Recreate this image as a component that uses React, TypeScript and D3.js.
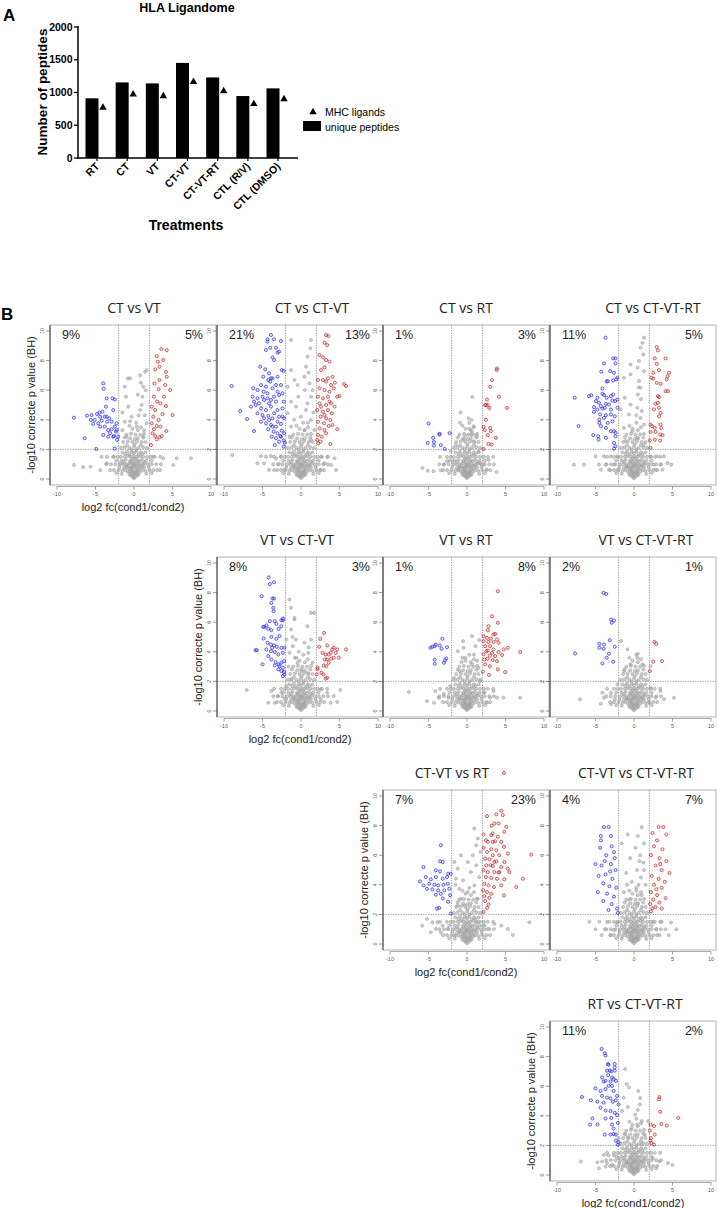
import React from "react";
import * as d3 from "d3";

// ---------- Panel A data ----------
const treatments = ["RT", "CT", "VT", "CT-VT", "CT-VT-RT", "CTL (R/V)", "CTL (DMSO)"];
const uniquePeptides = [911, 1154, 1139, 1452, 1230, 946, 1063];
const mhcLigands = [769, 972, 946, 1164, 1022, 825, 901];
const barYTicks = [0, 500, 1000, 1500, 2000];

// ---------- Panel B data ----------
const volcanoXTicks = [-10, -5, 0, 5, 10];
const volcanoYTicks = [0, 2, 4, 6, 8, 10];
const fcThreshold = 2;
const pThreshold = 2;

const comparisons = [
  "CT vs VT", "CT vs CT-VT", "CT vs RT", "CT vs CT-VT-RT",
  "VT vs CT-VT", "VT vs RT", "VT vs CT-VT-RT",
  "CT-VT vs RT", "CT-VT vs CT-VT-RT", "RT vs CT-VT-RT",
];
const pctDown = ["9%", "21%", "1%", "11%", "8%", "1%", "2%", "7%", "4%", "11%"];
const pctUp = ["5%", "13%", "3%", "5%", "3%", "8%", "1%", "23%", "7%", "2%"];

// common dense low-significance core (log2fc, -log10 p)
const grayCore = [
  0,0.05, -0.2,0.15, 0.2,0.15, -0.4,0.25, 0.4,0.25, 0,0.3, -0.1,0.4, 0.3,0.45, -0.6,0.3, 0.6,0.3,
  -0.8,0.5, -0.5,0.5, -0.2,0.55, 0.1,0.5, 0.5,0.55, 0.8,0.5, 1.1,0.6, -1.1,0.6, -1.5,0.55, 1.5,0.55,
  -2.0,0.6, 2.0,0.6, -2.6,0.6, 2.5,0.6, -3.1,0.6, 3.0,0.6, -0.3,0.65, 0.3,0.65,
  -1.3,0.75, -0.9,0.8, -0.4,0.75, 0,0.8, 0.4,0.8, 0.9,0.75, 1.3,0.8, -0.7,0.9, 0.7,0.9, 0,0.95,
  -2.4,1.0, -1.8,1.0, -1.4,1.0, -1.0,1.0, -0.6,1.05, -0.2,1.0, 0.2,1.05, 0.6,1.0, 1.0,1.0, 1.4,1.05,
  1.8,1.0, 2.3,1.0, -3.0,1.0, 2.9,1.0, -0.15,1.15, 0.35,1.15,
  -1.6,1.25, -1.1,1.3, -0.5,1.25, 0,1.3, 0.5,1.25, 1.0,1.3, 1.6,1.25,
  -2.6,1.5, -2.1,1.5, -1.7,1.5, -1.2,1.5, -0.8,1.55, -0.4,1.5, 0,1.55, 0.4,1.5, 0.8,1.55, 1.2,1.5,
  1.7,1.5, 2.2,1.5, 2.7,1.5,
  -1.5,1.8, -0.9,1.85, -0.3,1.8, 0.3,1.85, 0.9,1.8, 1.5,1.8,
  -1.7,2.1, -1.2,2.15, -0.6,2.1, 0,2.2, 0.6,2.1, 1.2,2.15, 1.7,2.1,
  -1.4,2.5, -0.8,2.55, -0.2,2.5, 0.4,2.55, 1.0,2.5, 1.5,2.5,
  -1.0,3.0, -0.4,3.05, 0.2,3.0, 0.8,3.0, 1.3,3.05,
  -0.1,0.2, 0.15,0.35, -0.35,0.45, 0.45,0.4, -0.6,0.7, 0.6,0.7, -0.2,0.85, 0.2,0.9, -1.0,0.85, 1.1,0.9,
  -0.45,1.15, 0.7,1.2, -1.3,1.15, 1.3,1.15, -0.2,1.4, 0.25,1.4, -0.6,1.65, 0.6,1.65, -1.1,1.7, 1.1,1.7,
  0,1.75, -0.3,2.0, 0.3,2.0, -0.9,2.3, 0.9,2.3, 0.1,2.35, -0.5,2.75, 0.5,2.75, 1.2,2.8, -1.2,2.8,
  0.1,2.7, 0.5,3.3, -0.2,3.4, 0.9,3.5, 0.3,3.8, -0.6,3.6, -2.3,1.25, 2.3,1.25, -1.9,0.8, 1.9,0.8,
  -3.5,1.5, 3.4,1.5, -3.6,1.0, 3.5,1.0, -2.3,0.4, 2.3,0.4, -1.6,0.35, 1.6,0.35,
];

// CT vs VT
const ctVsVtBlue = [
  -7.8,4.14, -6.4,2.75, -6.1,4.28, -5.5,4.32, -5.6,3.99, -5.3,3.72, -4.9,2.03, -4.8,4.39, -4.65,3.76, -4.4,4.2,
  -4.2,3.94, -4.1,4.55, -4.0,6.46, -3.95,6.1, -3.8,3.54, -3.65,4.89, -3.55,5.45, -3.5,3.87, -3.35,3.31, -3.2,4.1,
  -3.1,3.09, -2.9,3.36, -2.8,5.45, -2.7,4.66, -2.6,2.9, -2.5,5.38, -2.35,3.2, -2.25,3.76, -2.2,2.64, -2.5,2.05,
  -4.4,3.54, -5.1,3.99, -3.55,4.21, -2.9,3.87, -2.5,3.54, -4.0,2.97, -3.35,2.86, -3.8,4.21, -4.5,4.48, -2.7,2.86,
  -2.05,2.86, -2.25,3.31,
];
const ctVsVtRed = [
  3.55,8.78, 4.25,8.71, 2.95,8.3, 3.1,7.93, 3.8,8.04, 2.75,7.41, 3.3,7.59, 4.15,7.25, 4.25,6.91, 3.3,6.69,
  2.65,6.46, 4.05,6.35, 4.7,6.01, 3.2,6.06, 2.6,5.56, 3.9,5.56, 3.0,5.23, 2.3,4.89, 3.45,5.11, 4.15,4.93,
  2.75,4.66, 3.7,4.39, 5.0,4.32, 2.5,4.21, 3.2,3.99, 2.3,3.76, 2.95,3.58, 3.45,3.54, 4.2,3.24, 2.4,3.09,
  2.75,2.9, 3.3,2.82, 3.6,2.9, 2.95,2.68, 2.2,2.3, 2.6,3.36,
];
const ctVsVtGray = [
  -7.8,0.95, -5.65,0.83, -4.2,1.5, -3.55,1.06, -2.7,1.51, -1.8,1.06, -1.2,3.87, -1.05,5.56, -0.5,6.8, 0.8,7.0,
  1.45,7.25, 1.65,7.36, 1.2,6.24, 1.1,5.56, 0.8,4.66, -0.75,4.89, -0.3,4.21, 0.35,3.54, -0.95,2.86, 1.2,2.86,
  3.8,1.4, 5.1,0.95, 5.55,1.4, 7.4,1.4, 3.4,0.6, 2.5,1.5, -4.4,0.6, -6.6,0.8, 1.65,3.76, -1.2,6.24, -0.8,6.8,
  1.0,5.0, 0.6,4.3, 1.4,4.3, -0.5,3.9, 1.3,3.3, -1.5,3.3, 0.9,6.5, 1.5,6.0, -1.5,4.5, 0.5,5.7,
];

// CT vs CT-VT
const ctVsCtvtBlue = [
  -9.0,6.28, -7.9,4.59, -7.0,4.05, -6.1,3.24, -6.2,6.13, -5.3,7.59, -4.9,6.91, -4.65,7.41, -4.35,9.44, -3.9,9.73,
  -3.5,9.44, -4.35,9.28, -4.0,8.87, -3.25,8.87, -2.6,9.32, -3.7,8.22, -3.05,8.54, -2.85,8.6, -4.55,8.72, -3.5,8.04,
  -2.5,7.36, -2.25,7.3, -4.25,6.69, -3.9,6.8, -4.0,6.58, -3.25,6.35, -5.2,6.35, -5.65,6.01, -4.85,5.9, -4.35,5.79,
  -3.5,5.56, -2.85,5.68, -2.4,5.79, -6.3,5.56, -5.65,5.45, -4.8,5.34, -4.15,5.11, -3.25,5.23, -2.25,5.23, -6.5,4.89,
  -5.9,5.0, -5.2,4.77, -4.55,4.66, -3.9,4.89, -3.05,4.66, -2.4,4.77, -5.65,4.44, -5.0,4.32, -4.25,4.26, -3.7,4.1,
  -2.85,4.21, -2.2,4.1, -5.2,3.87, -4.55,3.76, -3.9,3.65, -3.25,3.54, -2.6,3.72, -4.25,3.36, -3.55,3.2, -3.05,3.09,
  -2.5,3.27, -2.2,3.09, -3.8,2.86, -3.25,2.75, -2.7,2.9, -2.25,2.59, -2.1,2.45, -2.85,2.52, -5.0,5.56, -4.55,6.24,
  -3.7,6.13, -4.15,7.14, -3.05,6.91, -6.1,5.23, -5.45,5.11, -3.5,4.44, -4.8,4.1, -4.15,3.99, -3.05,3.87, -2.4,4.21,
  -3.7,3.54, -2.6,2.86, -3.4,2.3, -2.25,2.18, -3.7,6.8, -3.05,5.9, -2.6,6.35, -3.9,5.34, -4.35,5.45,
];
const ctVsCtvtRed = [
  3.25,9.73, 3.55,9.66, 3.05,9.21, 3.4,9.05, 2.4,8.38, 2.85,8.22, 3.25,8.04, 3.7,7.93, 2.6,7.36, 3.05,7.55,
  2.2,6.69, 2.85,6.69, 3.5,6.8, 4.1,6.91, 4.4,6.51, 5.6,6.42, 5.85,6.28, 2.4,6.13, 3.05,6.01, 3.7,5.9,
  4.25,6.13, 2.2,5.56, 2.85,5.45, 3.5,5.56, 4.7,5.56, 5.0,5.61, 2.4,5.11, 3.25,5.0, 3.9,5.11, 4.35,4.89,
  2.1,4.66, 2.85,4.55, 3.5,4.66, 4.0,4.44, 2.55,4.21, 3.25,4.1, 3.8,3.99, 2.2,3.87, 3.0,3.76, 3.6,3.58,
  4.7,3.36, 2.4,3.42, 3.05,3.31, 2.2,2.97, 2.7,2.86, 3.25,3.09, 2.1,2.64, 2.55,2.52, 3.8,2.36, 2.25,2.41,
  3.25,6.58, 3.9,6.35, 2.6,4.89, 3.7,5.23, 3.05,4.32, 4.1,3.65,
];
const ctVsCtvtGray = [
  -8.9,1.62, -5.2,1.55, -4.55,1.51, -3.9,1.55, -3.25,1.4, -2.6,1.51, -5.65,1.06, -4.8,1.06, -4.15,0.61, -3.5,0.61,
  -2.85,1.01, -2.2,0.61, -1.3,9.39, 1.3,9.39, 1.2,8.83, 0.85,8.27, 0.65,7.59, -1.3,7.36, -0.85,6.69, -0.45,6.35,
  -1.75,6.24, 0.45,6.91, 1.1,6.46, 1.3,5.56, 0.85,5.11, -1.3,5.23, -0.65,4.89, -1.75,4.44, 0,4.21, 1.3,3.99,
  -1.3,3.54, 0.45,3.31, 1.75,3.31, -1.5,2.86, 1.3,2.64, 2.6,1.51, 3.5,1.51, 4.35,1.4, 3.05,1.06, 3.9,0.95,
  4.55,0.61, 2.6,0.61, -0.35,5.56, 0.5,6.01, 0.65,4.66, 1.0,7.2, 1.5,6.0, 1.6,4.5, 0.9,3.8, -0.9,4.0,
];

// CT vs RT
const ctVsRtBlue = [
  -5.0,3.75, -4.4,2.78, -5.1,2.44, -4.3,2.5, -4.3,2.26, -3.55,3.05, -3.6,3.0, -2.26,3.1, -3.4,2.3, -2.9,2.03,
];
const ctVsRtRed = [
  3.9,7.47, 3.85,7.36, 3.25,6.68, 3.0,6.23, 4.15,5.55, 2.6,5.37, 2.35,4.99, 2.5,5.03, 2.7,4.97, 2.9,4.8,
  5.2,4.8, 2.45,4.0, 2.15,3.52, 2.3,3.3, 3.0,3.45, 3.1,3.23, 2.7,2.96, 3.75,2.78, 2.8,2.37, 3.2,2.33, 2.15,2.03,
];
const ctVsRtGray = [
  0.7,5.55, -0.85,4.5, 0.2,4.1, 0.6,4.0, 0.85,3.55, 0.65,3.2, 0.5,3.0, -0.2,2.93, -0.4,2.66, 0.85,2.55,
  1.5,1.87, -2.1,1.87, -5.8,0.75, -5.1,0.56, -4.35,0.52, -3.4,0.59, -3.0,0.97, -1.9,1.2, 1.7,1.08, 2.1,0.97,
  3.85,0.47, 2.55,0.63, -1.1,0.63, -0.9,3.8, 0.3,3.4, -1.5,2.3, 1.3,2.9, -2.6,1.2, 2.8,1.3,
];

// CT vs CT-VT-RT
const ctVsCtvtrtBlue = [
  -3.7,9.55, -2.7,8.15, -2.4,8.15, -3.9,7.81, -2.4,7.81, -3.1,7.29, -4.25,7.25, -2.6,7.18, -3.55,6.59, -3.4,6.61,
  -2.7,6.66, -2.15,6.84, -2.3,6.73, -4.1,6.12, -7.7,5.49, -5.85,5.6, -5.55,5.67, -4.75,5.49, -4.1,5.76, -3.9,5.67,
  -3.55,5.49, -3.0,5.6, -2.7,5.71, -2.15,5.37, -4.95,5.26, -4.55,5.15, -4.3,4.92, -3.65,5.08, -3.25,5.03, -2.8,5.3,
  -2.45,5.26, -5.2,4.85, -4.75,4.7, -4.1,4.76, -3.8,4.81, -3.0,4.7, -2.15,4.81, -5.2,4.54, -4.4,4.36, -3.65,4.31,
  -3.0,4.36, -2.5,4.24, -4.5,4.02, -3.9,4.13, -3.4,3.79, -2.8,3.9, -4.5,3.79, -7.2,3.57, -4.3,3.57, -3.65,3.45,
  -3.0,3.23, -2.6,3.23, -5.3,2.96, -4.65,2.89, -3.65,2.78, -2.4,3.12, -2.4,2.89, -4.6,2.66, -2.6,2.44, -2.4,2.21,
  -2.6,2.05,
];
const ctVsCtvtrtRed = [
  2.95,8.92, 3.1,8.69, 4.1,8.15, 2.7,8.15, 2.95,7.79, 3.25,7.36, 2.5,7.18, 4.55,7.18, 4.35,6.95, 4.25,6.73,
  2.25,6.84, 2.5,6.79, 2.95,6.5, 3.45,6.43, 4.1,5.94, 4.4,5.94, 3.1,5.6, 3.25,5.53, 2.8,5.08, 3.1,5.15,
  3.25,4.81, 2.6,4.7, 3.45,4.47, 3.25,4.24, 2.15,3.68, 2.35,3.57, 2.7,3.45, 3.45,3.68, 3.55,3.45, 2.15,3.18,
  2.8,3.18, 3.4,3.0, 3.7,2.96, 2.7,2.66, 3.4,2.6, 2.05,2.6, 2.15,2.1,
];
const ctVsCtvtrtGray = [
  1.3,9.55, 1.1,9.2, 0.85,8.87, 1.2,8.42, 0.65,7.97, 0.45,7.52, 1.3,7.29, -0.45,7.07, 0.65,6.61, -1.3,6.84,
  -0.45,7.74, 0.85,6.16, 0.5,5.71, -1.2,5.49, -0.45,5.03, 0.45,4.81, -1.75,4.7, -0.65,4.36, 0.85,4.13, 1.3,3.68,
  -1.3,3.45, -0.2,3.23, 0.45,2.78, -1.1,2.55, 1.3,2.33, -7.8,0.97, -6.5,0.97, -5.0,1.53, -3.9,1.53, -3.0,1.53,
  -2.15,1.53, -4.55,0.97, -3.65,0.97, -2.6,0.97, -4.3,0.63, -3.25,0.63, -2.15,0.63, 2.15,1.53, 3.0,1.53, 3.9,1.53,
  2.6,0.97, 3.45,0.97, 4.35,1.08, 4.85,0.97, 2.8,0.63, 3.7,0.63, 0.9,5.4, 0.6,6.2, 1.0,4.6, 0.3,4.3,
];

// VT vs CT-VT
const vtVsCtvtBlue = [
  -4.2,9.03, -4.05,8.58, -3.5,8.7, -5.1,7.75, -3.7,7.6, -3.5,7.6, -3.85,7.3, -3.6,6.97, -3.55,6.74, -2.35,6.25,
  -2.35,6.13, -2.55,6.13, -4.9,5.69, -4.75,5.66, -4.05,6.07, -3.4,6.07, -3.2,5.89, -4.5,5.78, -4.25,5.55, -3.85,5.46,
  -2.9,5.55, -2.55,5.73, -4.85,4.9, -3.85,5.01, -4.35,4.61, -3.9,4.49, -3.5,4.43, -3.15,4.34, -2.55,4.27, -2.15,4.27,
  -5.9,4.11, -5.75,4.11, -4.5,4.16, -3.9,4.04, -3.4,3.98, -2.95,3.82, -2.35,3.93, -4.25,3.71, -3.85,3.48, -3.3,3.3,
  -2.9,3.15, -2.55,3.26, -2.2,3.37, -5.0,3.15, -3.4,3.08, -2.8,3.03, -2.35,2.92, -2.95,2.81, -2.55,2.7, -2.2,2.63,
  -2.35,2.36, -2.15,2.47, -3.75,4.27, -3.2,4.88, -2.8,5.06,
];
const vtVsCtvtRed = [
  3.0,5.28, 2.5,4.88, 3.4,4.43, 4.25,4.27, 4.7,4.16, 4.05,4.16, 5.85,4.16, 2.35,4.34, 2.8,3.93, 3.2,3.82,
  3.6,3.82, 3.85,3.93, 4.5,3.93, 3.1,3.48, 3.4,3.48, 3.9,3.53, 4.25,3.6, 3.6,3.26, 2.95,3.08, 3.3,3.03,
  2.15,2.92, 2.15,2.81, 2.65,2.58, 2.9,2.47, 2.05,2.47, 3.4,2.25, 3.2,2.18, 4.9,3.6,
];
const vtVsCtvtGray = [
  -7.05,1.42, -2.15,0.83, -3.0,1.01, -3.85,1.35, -4.25,0.56, -3.4,0.56, -2.55,1.24, 2.55,1.46, 3.4,1.24, 4.25,1.01,
  5.1,1.42, 3.85,0.56, 4.7,0.61, 2.55,0.79, -1.5,7.53, -1.3,6.97, -0.85,6.29, -1.3,5.51, -0.65,4.83, -1.9,4.83,
  -1.5,3.93, -0.45,3.26, 0,2.81, 1.3,6.63, 1.7,6.63, 0.85,5.73, 1.3,4.83, 0.95,3.93, 0.45,4.61, 1.5,3.26,
  -1.3,2.13, 0.85,2.58, -1.9,1.69, -0.85,6.18, -1.05,4.38, -1.1,5.0, -0.8,3.6, -1.6,3.0, 1.0,4.3, -0.3,4.0,
];

// VT vs RT
const vtVsRtBlue = [
  -4.75,4.27, -4.5,4.34, -4.2,4.38, -4.05,4.49, -3.55,4.43, -3.2,4.88, -3.3,4.2, -2.6,4.31, -4.2,3.46, -4.2,3.19,
  -2.85,3.42, -2.7,3.55, -3.0,3.26,
];
const vtVsRtRed = [
  4.0,8.09, 3.25,6.4, 2.8,5.73, 4.0,5.96, 2.7,5.46, 3.45,5.17, 3.65,5.21, 2.15,5.06, 2.6,4.94, 3.1,4.9,
  3.9,4.83, 2.15,4.72, 2.8,4.67, 3.45,4.67, 4.1,4.61, 2.35,4.38, 3.0,4.38, 2.7,4.09, 3.45,4.16, 4.75,4.16,
  5.3,4.27, 6.9,3.98, 4.1,3.98, 2.15,3.82, 2.95,3.75, 3.65,3.71, 4.55,3.78, 2.25,3.48, 2.65,3.53, 3.35,3.44,
  3.9,3.37, 2.35,3.15, 2.95,3.03, 4.0,2.81, 4.95,2.63, 2.85,2.43, 2.05,2.65, 2.5,4.04, 3.25,3.93,
];
const vtVsRtGray = [
  -7.55,1.28, -5.2,0.67, -4.3,0.56, -3.65,0.9, -4.1,1.35, -3.0,1.17, -2.15,1.69, -2.4,0.9, 2.15,1.24, 3.0,0.9,
  3.9,0.9, 4.75,0.9, 6.9,0.9, 3.45,1.35, 2.6,0.56, -0.5,4.72, -0.45,4.27, 0.65,5.06, 1.1,4.38, -0.2,3.6,
  -1.2,4.04, 0.65,3.15, -0.95,2.7, 1.5,2.92, -1.7,2.25, 1.7,2.02, 0.9,3.8, -0.7,3.3, 1.3,3.4, 1.6,4.8,
];

// VT vs CT-VT-RT
const vtVsCtvtrtBlue = [
  -3.95,7.98, -3.6,7.91, -3.0,6.18, -2.6,6.11, -2.9,5.96, -3.15,4.79, -4.5,4.54, -3.9,4.49, -4.5,4.27, -3.95,4.2,
  -2.5,4.34, -3.25,3.87, -3.55,3.6, -7.65,3.89, -4.1,3.21, -2.7,3.33,
];
const vtVsCtvtrtRed = [2.65,4.67, 2.9,4.54, 3.65,3.37, 2.5,3.33, 2.05,2.7];
const vtVsCtvtrtGray = [
  -7.0,0.79, -4.1,1.24, -3.9,0.9, -3.0,1.24, -2.15,1.8, -2.5,0.79, -4.3,0.49, -3.0,0.45, -1.7,4.72, -0.85,4.16,
  0.45,3.6, 0.5,3.87, -0.45,3.15, 1.1,3.15, -1.3,2.7, 2.15,1.57, 3.45,1.35, 2.8,0.9, 5.2,0.9, 3.9,0.79,
  1.95,0.56, 2.15,3.03,
];

// CT-VT vs RT
const ctvtVsRtBlue = [
  -3.4,6.67, -5.65,5.2, -3.5,5.59, -3.15,5.54, -4.05,4.98, -3.5,4.91, -2.45,4.75, -2.1,4.75, -5.35,4.52, -4.7,4.37,
  -4.05,4.52, -3.15,4.41, -2.6,4.52, -6.1,4.23, -5.65,3.96, -4.9,4.07, -4.25,4.0, -3.75,3.96, -3.05,4.0, -2.5,4.07,
  -5.2,3.73, -4.5,3.69, -3.75,3.62, -2.95,3.62, -2.3,3.73, -4.05,3.33, -3.4,3.39, -3.9,2.4, -3.6,2.44, -2.1,2.06,
  -2.45,2.85, -3.15,3.08, -2.2,3.3,
];
const ctvtVsRtRed = [
  2.6,8.64, 4.45,9.0, 3.8,8.76, 4.65,8.71, 3.55,8.14, 4.1,8.14, 3.2,7.99, 5.1,7.92, 2.15,7.4, 3.35,7.47,
  3.15,7.35, 4.0,7.24, 4.85,7.58, 2.45,7.01, 2.7,6.9, 3.65,6.94, 4.45,6.9, 4.8,6.56, 2.15,6.49, 3.15,6.4,
  2.6,6.22, 3.8,6.33, 3.35,6.0, 4.2,6.0, 5.3,6.11, 8.35,6.04, 2.35,5.77, 2.9,5.72, 3.8,5.59, 4.85,5.54,
  2.5,5.32, 3.35,5.27, 4.45,5.2, 5.3,5.09, 2.15,4.98, 2.7,4.86, 3.55,4.86, 4.1,4.82, 5.5,4.86, 7.25,4.41,
  2.45,4.52, 3.15,4.46, 3.9,4.41, 4.85,4.37, 6.4,3.85, 2.25,4.07, 2.8,3.96, 3.5,3.85, 4.45,3.96, 2.1,3.62,
  2.6,3.51, 3.15,3.39, 4.8,3.28, 2.25,3.24, 2.9,3.12, 2.35,2.9, 2.8,2.67, 2.6,2.44, 2.15,2.17, 3.35,6.9,
  3.55,5.54, 3.05,5.32, 4.2,4.86, 4.8,11.55,
];
const ctvtVsRtGray = [
  -5.8,1.24, -5.2,1.7, -4.5,1.47, -3.85,1.47, -3.15,1.24, -2.5,1.02, -3.4,0.79, -4.05,1.02, -4.7,0.79, -1.65,0.57,
  1.4,1.47, 2.05,1.24, 2.7,1.02, 3.55,1.36, 4.45,1.24, 5.3,1.02, 5.95,0.61, 8.1,1.47, -1.65,5.54, -1.2,5.09,
  -1.45,4.41, -1.0,3.73, -0.8,3.05, -1.2,2.6, 0.95,7.81, 1.4,7.13, 1.2,6.67, 0.75,6.0, 1.2,5.32, 0.5,4.86,
  1.6,4.52, 0.95,3.96, 0.1,3.51, 1.4,3.05, -0.35,2.6, -0.8,6.0, 0.1,5.54, 1.75,6.22, -1.5,4.0, -0.5,4.3,
];

// CT-VT vs CT-VT-RT
const ctvtVsCtvtrtBlue = [
  -3.9,7.9, -3.3,7.9, -4.3,7.3, -3.0,7.3, -2.9,6.6, -4.4,6.5, -3.6,6.0, -2.6,6.2, -5.0,5.4, -4.2,5.3,
  -3.0,5.4, -2.4,5.0, -4.6,4.6, -3.7,4.7, -2.8,4.4, -4.0,4.1, -3.2,3.9, -2.3,3.8, -4.7,3.5, -3.5,3.4,
  -2.6,3.2, -4.0,2.9, -2.9,2.7, -2.2,2.4, -3.3,2.3, -2.1,2.1, -4.3,7.0, -3.1,4.9, -2.5,5.8, -3.8,5.6,
];
const ctvtVsCtvtrtRed = [
  3.2,7.9, 3.8,7.9, 2.4,7.5, 4.2,7.4, 3.0,7.0, 2.6,6.6, 3.7,6.4, 2.2,6.0, 3.3,5.8, 4.2,5.6,
  2.8,5.3, 3.6,5.0, 4.6,4.8, 2.3,4.6, 3.2,4.4, 4.0,4.2, 2.6,4.0, 3.6,3.8, 2.2,3.5, 3.0,3.3,
  4.1,3.1, 2.5,3.0, 3.3,2.8, 2.1,2.7, 2.8,2.5, 2.2,2.2, 3.6,2.4, 2.4,2.4, 2.9,3.7, 3.4,5.4,
];
const ctvtVsCtvtrtGray = [
  1.0,7.9, 0.5,7.3, 1.3,6.8, 0.2,6.5, 0.8,6.0, -0.5,5.8, 1.2,5.5, 0.4,5.0, -1.0,4.8, 0.9,4.5,
  -0.3,4.2, 1.5,4.0, 0.3,3.6, -1.3,3.5, 1.0,3.3, -0.6,3.0, 0.5,2.7, -5.8,1.5, -4.5,1.5, -3.2,1.5,
  -2.2,1.45, -5.0,1.0, -3.8,1.0, -2.6,0.95, -4.2,0.6, -3.0,0.6, 2.5,1.5, 3.6,1.5, 4.8,1.45, 2.9,1.0,
  4.1,1.0, 5.5,1.0, 3.3,0.6, 4.5,0.6, -1.6,6.8, -0.8,7.4, 0.6,4.0, -0.9,4.0, 1.3,5.0, 0.7,5.6,
];

// RT vs CT-VT-RT
const rtVsCtvtrtBlue = [
  -4.2,8.52, -3.8,8.23, -3.7,8.07, -3.4,7.5, -3.3,7.45, -3.15,7.05, -2.95,7.0, -2.5,7.5, -2.5,7.27, -2.5,7.05,
  -3.35,6.75, -2.85,6.59, -2.65,6.48, -4.15,6.59, -3.95,6.32, -3.7,6.36, -3.05,6.32, -2.35,6.36, -5.0,5.86, -4.35,5.68,
  -3.3,6.02, -2.85,6.02, -2.65,5.68, -2.2,5.34, -6.75,5.27, -5.6,5.05, -4.75,4.95, -3.95,4.89, -3.5,5.23, -3.05,5.18,
  -2.75,4.95, -2.35,5.05, -2.0,4.77, -4.35,4.55, -3.7,4.36, -3.05,4.32, -2.5,4.2, -5.4,3.82, -3.7,3.82, -2.95,3.86,
  -2.2,4.05, -5.7,3.41, -4.75,3.41, -2.85,3.41, -2.65,3.14, -2.1,3.52, -3.8,2.73, -3.05,2.73, -2.65,2.77, -2.35,2.73,
  -2.35,2.32, -2.0,2.23, -2.1,2.05, -3.5,7.05, -3.7,5.8, -4.15,5.34,
];
const rtVsCtvtrtRed = [
  3.3,5.27, 3.25,5.11, 3.4,4.27, 5.75,3.86, 3.55,3.45, 4.25,3.34, 2.15,3.41, 2.6,3.3, 2.7,2.73, 2.05,3.0,
  2.2,2.5, 2.15,2.32, 2.25,2.16, 2.6,2.05,
];
const rtVsCtvtrtGray = [
  -6.9,0.91, -4.75,0.86, -4.15,0.91, -3.9,1.36, -3.3,1.32, -2.65,1.32, -3.5,0.8, -2.85,0.68, -4.55,0.45, -3.7,0.57,
  -2.0,1.14, 2.45,1.14, 3.3,0.91, 4.4,0.8, 5.0,0.68, 2.9,0.45, -1.15,7.16, -0.95,6.14, -0.65,5.91, -1.35,5.23,
  -1.55,4.32, 0.55,5.68, 0.75,4.77, 0.15,4.09, 1.0,3.64, -0.3,3.18, -1.15,2.73, 1.4,2.73, 1.0,2.05, -0.7,2.5,
  1.85,3.64, -2.0,2.5, 0.5,4.4, 0.8,5.2, -0.8,4.6, 0.4,3.4,
];

const blueSets = [ctVsVtBlue, ctVsCtvtBlue, ctVsRtBlue, ctVsCtvtrtBlue, vtVsCtvtBlue, vtVsRtBlue, vtVsCtvtrtBlue, ctvtVsRtBlue, ctvtVsCtvtrtBlue, rtVsCtvtrtBlue];
const redSets = [ctVsVtRed, ctVsCtvtRed, ctVsRtRed, ctVsCtvtrtRed, vtVsCtvtRed, vtVsRtRed, vtVsCtvtrtRed, ctvtVsRtRed, ctvtVsCtvtrtRed, rtVsCtvtrtRed];
const graySets = [ctVsVtGray, ctVsCtvtGray, ctVsRtGray, ctVsCtvtrtGray, vtVsCtvtGray, vtVsRtGray, vtVsCtvtrtGray, ctvtVsRtGray, ctvtVsCtvtrtGray, rtVsCtvtrtGray];

// ---------- layout ----------
const colLeft = [50, 217, 383, 550];
const rowTop = [325, 557, 790, 1021];
const panelCell = [[0,0],[0,1],[0,2],[0,3],[1,1],[1,2],[1,3],[2,2],[2,3],[3,3]];
const titleDx = [1, 12, 0, 20, -3, 0, 13, -14, 3, 2];
const firstInRow = [true, false, false, false, true, false, false, true, false, true];

const SANS = "'Liberation Sans', Arial, sans-serif";
const TITLE_FONT = "'Open Sans', 'Noto Sans', sans-serif";
const BLUE = "#2a2af0";
const RED = "#c02828";
const GRAY = "#a2a2a2";

function pairs(a: number[]): [number, number][] {
  const out: [number, number][] = [];
  for (let i = 0; i < a.length; i += 2) out.push([a[i], a[i + 1]]);
  return out;
}

function BarPanel() {
  const y = d3.scaleLinear().domain([0, 2000]).range([158, 27]);
  const x = d3.scalePoint<string>().domain(treatments).range([92, 273]);
  const tri = d3.symbol().type(d3.symbolTriangle).size(24)();
  return (
    <g>
      <text x={3} y={21} fontFamily={SANS} fontWeight="bold" fontSize={17}>A</text>
      <text x={187} y={12} fontFamily={SANS} fontWeight="bold" fontSize={12.5} textAnchor="middle">HLA Ligandome</text>
      {treatments.map((t, i) => (
        <rect key={t} x={x(t)! - 6.5} y={y(uniquePeptides[i])} width={13} height={y(0) - y(uniquePeptides[i])} fill="#000" />
      ))}
      {treatments.map((t, i) => (
        <path key={"m" + t} d={tri!} transform={`translate(${x(t)! + 11},${y(mhcLigands[i])})`} fill="#000" />
      ))}
      <line x1={78} x2={78} y1={26} y2={158.7} stroke="#000" strokeWidth={1.5} />
      <line x1={77.3} x2={298} y1={158} y2={158} stroke="#000" strokeWidth={1.5} />
      {barYTicks.map((v) => (
        <g key={v}>
          <line x1={74} x2={78} y1={y(v)} y2={y(v)} stroke="#000" strokeWidth={1.3} />
          <text x={72.5} y={y(v) + 3.7} fontFamily={SANS} fontWeight="bold" fontSize={10.5} textAnchor="end">{v}</text>
        </g>
      ))}
      {treatments.map((t) => (
        <g key={"l" + t}>
          <line x1={x(t)! + 5} x2={x(t)! + 5} y1={158} y2={161} stroke="#000" strokeWidth={1.2} />
          <text transform={`translate(${x(t)! + 8},${167}) rotate(-45)`} fontFamily={SANS} fontWeight="bold" fontSize={10.5} textAnchor="end">{t}</text>
        </g>
      ))}
      <text transform="translate(47,92) rotate(-90)" fontFamily={SANS} fontWeight="bold" fontSize={13.5} textAnchor="middle">Number of peptides</text>
      <text x={186} y={230} fontFamily={SANS} fontWeight="bold" fontSize={14} textAnchor="middle">Treatments</text>
      <path d={tri!} transform="translate(313,112)" fill="#000" />
      <text x={325} y={116} fontFamily={SANS} fontSize={10.5}>MHC ligands</text>
      <rect x={303} y={121} width={18} height={10} fill="#000" />
      <text x={325} y={131} fontFamily={SANS} fontSize={10.5}>unique peptides</text>
    </g>
  );
}

function Volcano({ idx }: { idx: number }) {
  const [r, c] = panelCell[idx];
  const left = colLeft[c];
  const top = rowTop[r];
  const w = 166;
  const h = 160;
  const x = d3.scaleLinear().domain([-10, 10]).range([left + 7, left + w - 5]);
  const y = d3.scaleLinear().domain([0, 10]).range([top + 154, top + 6]);
  const grays = pairs(grayCore).concat(pairs(graySets[idx]));
  const blues = pairs(blueSets[idx]);
  const reds = pairs(redSets[idx]);
  const rad = 1.55;
  return (
    <g>
      <rect x={left} y={top} width={w} height={h} fill="none" stroke="#a0a0a0" strokeWidth={0.8} />
      {[-fcThreshold, fcThreshold].map((t) => (
        <line key={t} x1={x(t)} x2={x(t)} y1={top} y2={top + h} stroke="#7a7a7a" strokeWidth={0.7} strokeDasharray="1.4 1.1" />
      ))}
      <line x1={left} x2={left + w} y1={y(pThreshold)} y2={y(pThreshold)} stroke="#7a7a7a" strokeWidth={0.7} strokeDasharray="1.4 1.1" />
      {grays.map(([a, b], i) => (
        <circle key={"g" + i} cx={x(a)} cy={y(b)} r={rad} fill="rgba(165,165,165,0.55)" stroke={GRAY} strokeWidth={0.6} />
      ))}
      {blues.map(([a, b], i) => (
        <circle key={"b" + i} cx={x(a)} cy={y(b)} r={rad} fill="rgba(60,60,255,0.15)" stroke={BLUE} strokeWidth={0.7} />
      ))}
      {reds.map(([a, b], i) => (
        <circle key={"r" + i} cx={x(a)} cy={y(b)} r={rad} fill="rgba(200,50,50,0.15)" stroke={RED} strokeWidth={0.7} />
      ))}
      <line x1={left} x2={left} y1={top} y2={top + h} stroke="#3a3a3a" strokeWidth={1} />
      {volcanoYTicks.map((v) => (
        <g key={"yt" + v}>
          <line x1={left - 4} x2={left} y1={y(v)} y2={y(v)} stroke="#555" strokeWidth={0.6} />
          <text transform={`translate(${left - 6.5},${y(v)}) rotate(-90)`} fontFamily={SANS} fontSize={5.5} fill="#555" textAnchor="middle">{v}</text>
        </g>
      ))}
      <line x1={x(-10)} x2={x(10)} y1={top + h + 1.5} y2={top + h + 1.5} stroke="#777" strokeWidth={0.6} />
      {volcanoXTicks.map((v) => (
        <g key={"xt" + v}>
          <line x1={x(v)} x2={x(v)} y1={top + h + 1.5} y2={top + h + 4.5} stroke="#666" strokeWidth={0.6} />
          <text x={x(v)} y={top + h + 11} fontFamily={SANS} fontSize={5.5} fill="#555" textAnchor="middle">{v}</text>
        </g>
      ))}
      <text x={left + w / 2 + titleDx[idx]} y={top - 12} fontFamily={TITLE_FONT} fontSize={14} fill="#222" textAnchor="middle">{comparisons[idx]}</text>
      <text x={left + 12} y={top + 14} fontFamily={SANS} fontSize={12.5} fill="#222">{pctDown[idx]}</text>
      <text x={left + w - 13} y={top + 14} fontFamily={SANS} fontSize={12.5} fill="#222" textAnchor="end">{pctUp[idx]}</text>
      {firstInRow[idx] && (
        <g>
          <text transform={`translate(${left - 15},${top + 80}) rotate(-90)`} fontFamily={SANS} fontSize={11} fill="#222" textAnchor="middle">-log10 correcte p value (BH)</text>
          <text x={left + w / 2} y={top + 186} fontFamily={SANS} fontSize={11} fill="#222" textAnchor="middle">log2 fc(cond1/cond2)</text>
        </g>
      )}
    </g>
  );
}

export default function App() {
  return (
    <svg width={718} height={1208} style={{ position: "absolute", left: 0, top: 0, background: "#fff" }}>
      <rect x={0} y={0} width={718} height={1208} fill="#fff" />
      <BarPanel />
      <text x={1} y={320} fontFamily={SANS} fontWeight="bold" fontSize={17}>B</text>
      {comparisons.map((_, i) => (
        <Volcano key={i} idx={i} />
      ))}
    </svg>
  );
}
